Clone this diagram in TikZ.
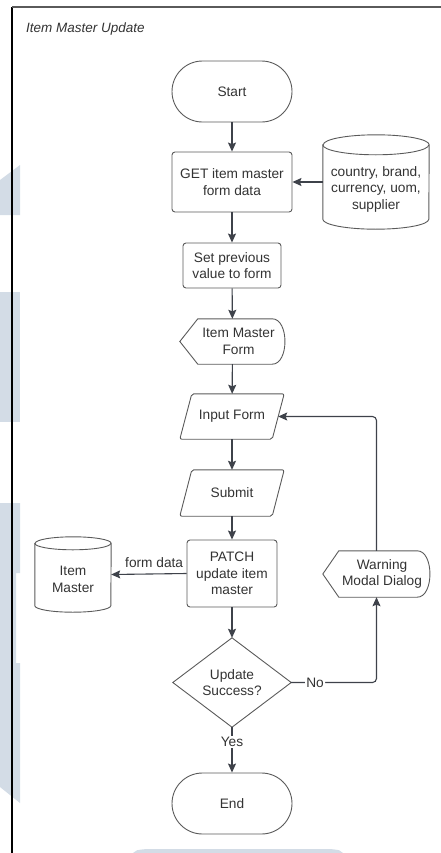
\documentclass[tikz,border=0pt]{standalone}
\usepackage{fontspec}
\setmainfont{Liberation Sans}
\usetikzlibrary{arrows.meta}

\definecolor{ink}{HTML}{333333}
\definecolor{edge}{HTML}{5A5A5A}
\definecolor{wire}{HTML}{3E424A}
\definecolor{wash}{HTML}{D3DCE6}

\begin{document}
\begin{tikzpicture}[x=1bp,y=-1bp,
  font=\fontsize{13.7bp}{16.5bp}\selectfont, text=ink,
  box/.style={draw=edge, line width=0.9bp, fill=white, align=center, inner sep=0pt},
  ghost/.style={draw=none, align=center, inner sep=0pt},
  outline/.style={draw=edge, line width=0.9bp},
  flow/.style={draw=wire, line width=1.1bp, -{Stealth[length=9bp,width=8bp,inset=1.5bp]}},
  lbl/.style={fill=white, inner sep=1.2bp, text=ink}]

\useasboundingbox (0,0) rectangle (441,853);

% faint background wash shapes
\fill[wash] (0,180) -- (20,165) -- (20,215) -- (0,215) -- cycle;
\fill[wash] (0,292) rectangle (20,422);
\fill[wash] (0,503) -- (20,503) -- (20,573) -- (16,573) -- (16,663) -- (20,663) -- (20,803) -- (0,787) -- cycle;
\fill[wash] (133,853) .. controls (136,850) .. (147,849) -- (330,849) .. controls (340,850) .. (343,853) -- cycle;

% frame
\draw[line width=1.4bp, black] (12,853) -- (12,7);
\draw[line width=1.4bp, edge] (12,7) -- (441,7);

% title
\node[anchor=west, inner sep=0pt, font=\fontsize{13.5bp}{16bp}\selectfont\itshape] (title) at (26,29) {Item Master Update};

% terminals and process boxes
\node[box, rounded corners=30.5bp, minimum width=120bp, minimum height=61bp] (start) at (232,91.5) {Start};
\node[box, rounded corners=3bp, minimum width=120bp, minimum height=60bp] (get) at (232,182) {GET item master\\form data};
\node[box, rounded corners=3bp, minimum width=98bp, minimum height=45bp] (prev) at (232,265.5) {Set previous\\value to form};
\node[box, rounded corners=3bp, minimum width=90bp, minimum height=67bp] (patch) at (232,573.5) {PATCH\\update item\\master};
\node[box, rounded corners=30.5bp, minimum width=120bp, minimum height=61bp] (end) at (232,803.5) {End};

% data stores (cylinders)
\node[ghost, minimum width=106bp, minimum height=94bp,
  label={[align=center, yshift=-7bp]center:{country, brand,\\currency, uom,\\supplier}}] (src) at (376,182) {};
\draw[outline] ([yshift=-10bp]src.north west) -- ([yshift=10bp]src.south west)
  arc[start angle=180, end angle=360, x radius=53bp, y radius=10bp]
  -- ([yshift=-10bp]src.north east)
  arc[start angle=0, end angle=180, x radius=53bp, y radius=10bp] -- cycle;
\draw[outline] ([yshift=-10bp]src.north west) arc[start angle=180, end angle=360, x radius=53bp, y radius=10bp];

\node[ghost, minimum width=76bp, minimum height=75bp,
  label={[align=center, yshift=-5bp]center:{Item\\Master}}] (store) at (73,574.5) {};
\draw[outline] ([yshift=-6.5bp]store.north west) -- ([yshift=6.5bp]store.south west)
  arc[start angle=180, end angle=360, x radius=38bp, y radius=6.5bp]
  -- ([yshift=-6.5bp]store.north east)
  arc[start angle=0, end angle=180, x radius=38bp, y radius=6.5bp] -- cycle;
\draw[outline] ([yshift=-6.5bp]store.north west) arc[start angle=180, end angle=360, x radius=38bp, y radius=6.5bp];

% display shapes
\node[ghost, minimum width=105bp, minimum height=45bp,
  label={[align=center, xshift=6bp]center:{Item Master\\Form}}] (form) at (232.5,341.5) {};
\draw[outline] (form.west) -- ([xshift=18bp]form.north west) -- ([xshift=-13bp]form.north east)
  .. controls ([xshift=4bp]form.north east) and ([xshift=4bp]form.south east) .. ([xshift=-13bp]form.south east)
  -- ([xshift=18bp]form.south west) -- cycle;

\node[ghost, minimum width=107bp, minimum height=46bp,
  label={[align=center, xshift=5.5bp]center:{Warning\\Modal Dialog}}] (warn) at (376.5,574) {};
\draw[outline] (warn.west) -- ([xshift=16bp]warn.north west) -- ([xshift=-13bp]warn.north east)
  .. controls ([xshift=4bp]warn.north east) and ([xshift=4bp]warn.south east) .. ([xshift=-13bp]warn.south east)
  -- ([xshift=16bp]warn.south west) -- cycle;

% input/output parallelograms
\node[ghost, minimum width=92bp, minimum height=45bp] (input) at (232,416.5) {Input Form};
\draw[outline, rounded corners=2bp] ([xshift=6bp]input.north west) -- ([xshift=6bp]input.north east)
  -- ([xshift=-6bp]input.south east) -- ([xshift=-6bp]input.south west) -- cycle;

\node[ghost, minimum width=92bp, minimum height=46bp] (submit) at (232,493) {Submit};
\draw[outline, rounded corners=2bp] ([xshift=6bp]submit.north west) -- ([xshift=6bp]submit.north east)
  -- ([xshift=-6bp]submit.south east) -- ([xshift=-6bp]submit.south west) -- cycle;

% decision
\node[ghost, minimum width=118bp, minimum height=89bp] (check) at (232,682.5) {Update\\Success?};
\draw[outline] (check.north) -- (check.east) -- (check.south) -- (check.west) -- cycle;

% connectors
\draw[flow] (start) -- (get);
\draw[flow] (src.west) -- (get.east);
\draw[flow] (get) -- (prev);
\draw[flow] (prev) -- (form);
\draw[flow] (form) -- (input);
\draw[flow] (input) -- (submit);
\draw[flow] (submit) -- (patch);
\draw[flow] (patch.west) -- node[above=5bp, inner sep=1bp, pos=0.43] {form data} (store.east);
\draw[flow] (patch) -- (check);
\draw[flow] (check.south) -- node[lbl, pos=0.33] {Yes} (end.north);
\draw[flow, rounded corners=4bp] (check.east) -- node[lbl, pos=0.28] {No} (check.east -| warn.south) -- (warn.south);
\draw[flow, rounded corners=4bp] (warn.north) -- (warn.north |- input.east) -- (input.east);

\end{tikzpicture}
\end{document}
